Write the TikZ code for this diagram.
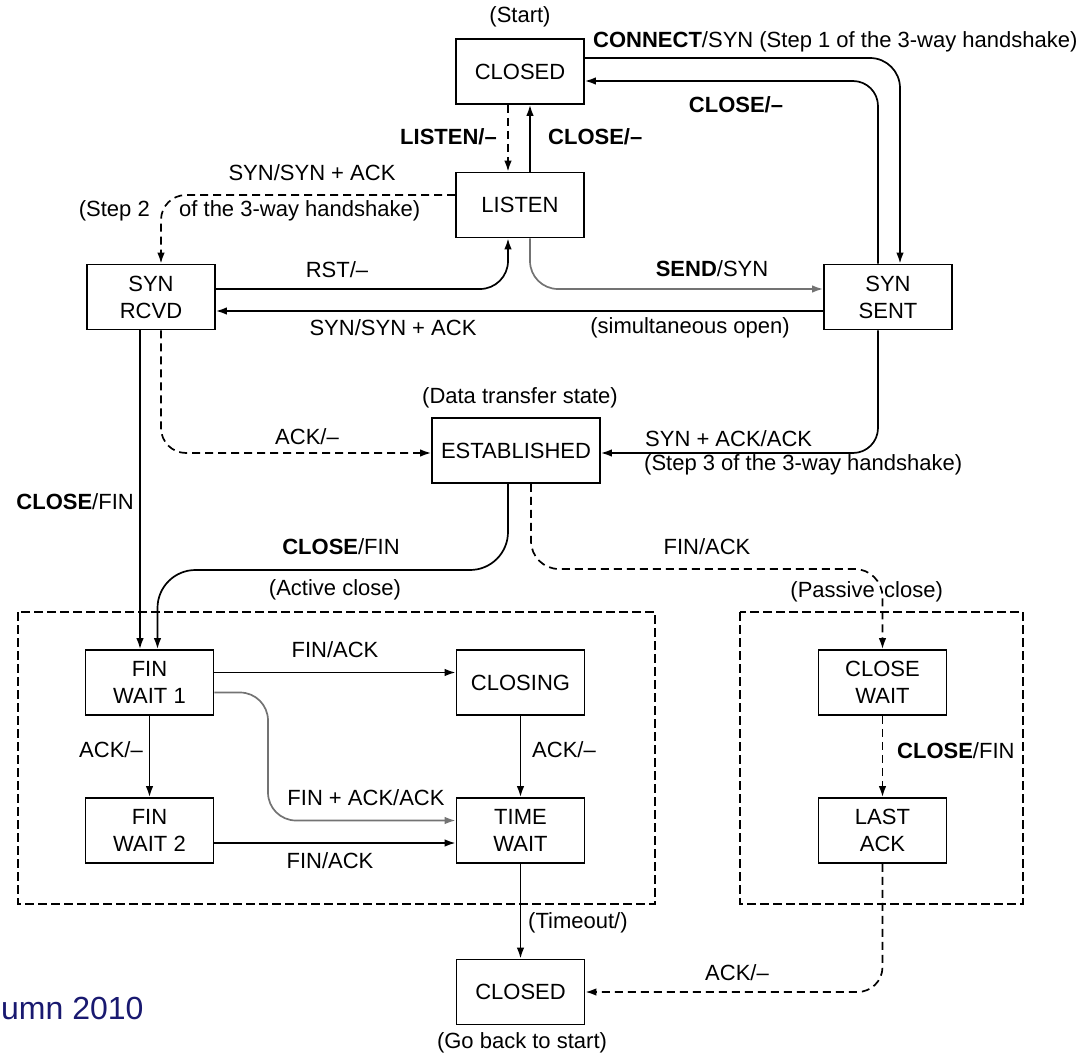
\documentclass[tikz,border=0pt]{standalone}
\usepackage{fontspec}
\setmainfont{Liberation Sans}
\usetikzlibrary{arrows.meta}
\newcommand\dfont{\fontsize{22}{27}\selectfont}
\newcommand\footfont{\fontsize{32}{36}\selectfont}
\definecolor{footblue}{RGB}{25,25,112}
\begin{document}
\begin{tikzpicture}[x=1pt,y=-1pt,
  state/.style={draw, line width=1.7pt, minimum width=128pt, minimum height=65pt,
                inner sep=0pt, align=center, font=\dfont, fill=white},
  lbl/.style={font=\dfont, inner sep=0pt},
  conn/.style={line width=1.7pt, -{Latex[length=11pt,width=7.5pt]}},
  graycon/.style={conn, draw=black!55},
  dconn/.style={conn, dash pattern=on 8pt off 5pt},
  group/.style={draw, line width=1.4pt, dash pattern=on 9pt off 4pt}]
\useasboundingbox (0,0) rectangle (1085,1057);

% active / passive close regions
\draw[group] (18,612) rectangle (655,904);
\draw[group] (740,612) rectangle (1023,904);

% states
\node[state] (closedT)  at (520,71.5)  {CLOSED};
\node[state] (listen)   at (520,205)   {LISTEN};
\node[state] (synrcvd)  at (151,297)   {SYN\\RCVD};
\node[state] (synsent)  at (888,297)   {SYN\\SENT};
\node[state, minimum width=168pt] (established) at (516,450.5) {ESTABLISHED};
\node[state] (finwait1) at (149.5,682.5) {FIN\\WAIT 1};
\node[state] (closing)  at (520.5,682.5) {CLOSING};
\node[state] (finwait2) at (149.5,830.5) {FIN\\WAIT 2};
\node[state] (timewait) at (520.5,830.5) {TIME\\WAIT};
\node[state] (closewait) at (882.5,682.5) {CLOSE\\WAIT};
\node[state] (lastack)  at (882.5,830.5) {LAST\\ACK};
\node[state] (closedB)  at (520.5,992)   {CLOSED};

% bends of the longer connectors
\coordinate (activebend)  at (330,570);
\coordinate (passivebend) at (700,569);
\coordinate (simulbend)   at (268,750);

% connection set-up
\draw[conn, rounded corners=30pt] ([yshift=13.5pt]closedT.east) -| ([xshift=12pt]synsent.north);
\draw[conn, rounded corners=25pt] ([xshift=-10pt]synsent.north) |- ([yshift=-9.5pt]closedT.east);
\draw[dconn] ([xshift=-12pt]closedT.south) -- ([xshift=-12pt]listen.north);
\draw[conn] ([xshift=10pt]listen.north) -- ([xshift=10pt]closedT.south);
\draw[dconn, rounded corners=25pt] ([yshift=10pt]listen.west) -| ([xshift=10pt]synrcvd.north);
\draw[conn, rounded corners=28pt] ([yshift=8pt]synrcvd.east) -| ([xshift=-12pt]listen.south);
\draw[graycon, rounded corners=28pt] ([xshift=10pt]listen.south) |- ([yshift=8pt]synsent.west);
\draw[conn] ([yshift=-14pt]synsent.west) -- ([yshift=-14pt]synrcvd.east);
\draw[dconn, rounded corners=25pt] ([xshift=10pt]synrcvd.south) |- ([yshift=-2.5pt]established.west);
\draw[conn, rounded corners=25pt] ([xshift=-10pt]synsent.south) |- ([yshift=-2.5pt]established.east);
\draw[conn] ([xshift=-11pt]synrcvd.south) -- ([xshift=-11pt]synrcvd.south |- finwait1.north);

% connection release
\draw[conn, rounded corners=38pt] ([xshift=-8pt]established.south) |- (activebend)
      -| ([xshift=8pt]finwait1.north);
\draw[dconn, rounded corners=28pt] ([xshift=15pt]established.south) |- (passivebend)
      -| (closewait.north);
\draw[conn] ([yshift=10pt]finwait1.east) -- ([yshift=10pt]closing.west);
\draw[graycon, rounded corners=28pt] ([yshift=-10pt]finwait1.east) -| (simulbend)
      |- ([yshift=10pt]timewait.west);
\draw[conn] (finwait1.south) -- (finwait2.north);
\draw[conn] (closing.south) -- (timewait.north);
\draw[conn] ([yshift=-12.5pt]finwait2.east) -- ([yshift=-12.5pt]timewait.west);
\draw[dconn] (closewait.south) -- (lastack.north);
\draw[conn] (timewait.south) -- (closedB.north);
\draw[dconn, rounded corners=25pt] (lastack.south) |- (closedB.east);

% labels
\node[lbl] (tStart) at (520,17) {(Start)};
\node[lbl, anchor=west] (tConnect) at (593,42) {\textbf{CONNECT}/SYN (Step 1 of the 3-way handshake)};
\node[lbl] (tClose1) at (736,105) {\textbf{CLOSE/–}};
\node[lbl, anchor=east] (tListen) at (497,137) {\textbf{LISTEN/–}};
\node[lbl, anchor=west] (tClose2) at (548,137) {\textbf{CLOSE/–}};
\node[lbl] (tSynA) at (312,173) {SYN/SYN + ACK};
\node[lbl, anchor=east] (tStep2a) at (150,211) {(Step 2};
\node[lbl, anchor=west] (tStep2b) at (179,211) {of the 3-way handshake)};
\node[lbl] (tRst) at (337,270) {RST/–};
\node[lbl] (tSend) at (712,269) {\textbf{SEND}/SYN};
\node[lbl] (tSynB) at (393,328) {SYN/SYN + ACK};
\node[lbl] (tSimul) at (690,328) {(simultaneous open)};
\node[lbl] (tData) at (520,398) {(Data transfer state)};
\node[lbl] (tAck1) at (307,437) {ACK/–};
\node[lbl, anchor=west] (tSynAck) at (645,439) {SYN + ACK/ACK};
\node[lbl, anchor=west] (tStep3) at (644,465) {(Step 3 of the 3-way handshake)};
\node[lbl, anchor=east] (tCloseFin1) at (134,502) {\textbf{CLOSE}/FIN};
\node[lbl] (tCloseFin2) at (341,547) {\textbf{CLOSE}/FIN};
\node[lbl] (tFinAck1) at (707,547) {FIN/ACK};
\node[lbl] (tActive) at (335,590) {(Active close)};
\node[lbl, anchor=east] (tPassA) at (875,592) {(Passive};
\node[lbl, anchor=west] (tPassB) at (884,592) {close)};
\node[lbl] (tFinAck2) at (335,650) {FIN/ACK};
\node[lbl] (tAck2) at (111,750) {ACK/–};
\node[lbl, anchor=west] (tAck3) at (532,750) {ACK/–};
\node[lbl] (tFinAckAck) at (366,798) {FIN + ACK/ACK};
\node[lbl] (tFinAck3) at (330,861) {FIN/ACK};
\node[lbl, anchor=west] (tCloseFin3) at (897,751) {\textbf{CLOSE}/FIN};
\node[lbl, anchor=west] (tTimeout) at (528,923) {(Timeout/)};
\node[lbl] (tAck4) at (737,973) {ACK/–};
\node[lbl] (tBack) at (522,1043) {(Go back to start)};
\node[font=\footfont, text=footblue, anchor=west, inner sep=0pt] (tFoot) at (1,1008) {umn 2010};
\end{tikzpicture}
\end{document}
